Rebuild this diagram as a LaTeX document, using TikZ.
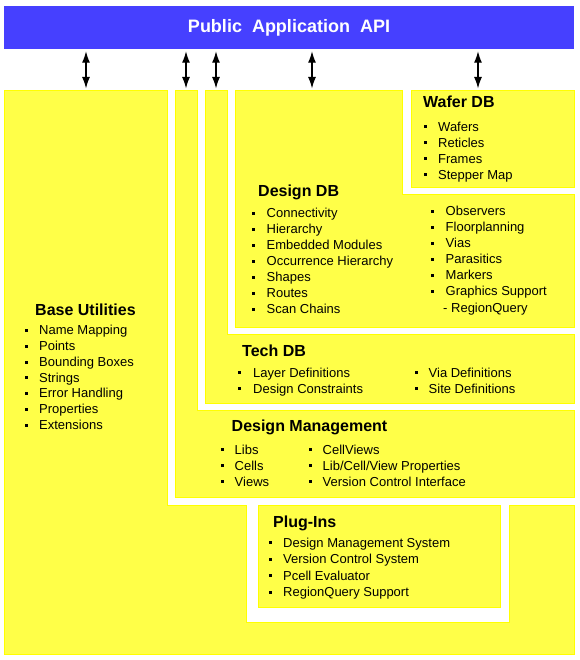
\documentclass[tikz,border=0pt]{standalone}
\usepackage{fontspec}
\setmainfont{Liberation Sans}
\usetikzlibrary{arrows.meta}
\definecolor{apiblue}{RGB}{70,64,255}
\definecolor{modfill}{RGB}{255,255,72}
\definecolor{modedge}{RGB}{255,255,0}
\tikzset{
  module/.style={fill=modfill, draw=modedge, line width=1pt},
  itm/.style={inner sep=0pt, font=\fontsize{13}{15}\selectfont, anchor=base west},
  hdg/.style={inner sep=0pt, font=\fontsize{16}{18}\selectfont\bfseries, anchor=base west},
  link/.style={line width=1.3pt, {Latex[length=11.5pt,width=8pt]}-{Latex[length=11.5pt,width=8pt]}, shorten <=2pt, shorten >=2.5pt},
  bulletsq/.style={fill=black}
}
\newcommand\bitem[5]{%
  \fill[bulletsq] (#2-1.5,#4-6) rectangle (#2+1.5,#4-3);
  \node[itm] (#1) at (#3,#4) {#5};}
\begin{document}
\begin{tikzpicture}[x=1pt,y=-1pt]
\useasboundingbox (0,0) rectangle (579,660);
\fill[white] (0,0) rectangle (579,660);
% API bar
\node[fill=apiblue, minimum width=570pt, minimum height=43pt, inner sep=0pt] (api) at (289,27.5) {};
\node[inner sep=0pt, anchor=base, text=white, font=\fontsize{18}{20}\selectfont\bfseries] (apititle) at (289,33) {Public\ \ Application\ \ API};
% modules
\draw[module] (4,91) -- (167,91) -- (167,505) -- (246,505) -- (246,622) -- (509,622) -- (509,505) -- (574,505) -- (574,654) -- (4,654) -- cycle;
\draw[module] (258,505) rectangle (500,607);
\draw[module] (175,91) -- (197,91) -- (197,410) -- (574,410) -- (574,497) -- (175,497) -- cycle;
\draw[module] (205,91) -- (227,91) -- (227,334) -- (574,334) -- (574,403) -- (205,403) -- cycle;
\draw[module] (235,91) -- (402,91) -- (402,195) -- (574,195) -- (574,327) -- (235,327) -- cycle;
\draw[module] (411,91) rectangle (574,188);
% connector ends
\coordinate (tBase) at (86,91);
\coordinate (tDM) at (186,91);
\coordinate (tTech) at (216,91);
\coordinate (tDes) at (312,91);
\coordinate (tWafer) at (478,91);
\foreach \t in {tBase,tDM,tTech,tDes,tWafer}
  \draw[link] (api.south -| \t) -- (\t);
% Wafer DB
\node[hdg] (wafer) at (423,108) {Wafer DB};
\bitem{w1}{425}{438}{131.5}{Wafers}
\bitem{w2}{425}{438}{147.5}{Reticles}
\bitem{w3}{425}{438}{163.5}{Frames}
\bitem{w4}{425}{438}{179.5}{Stepper Map}
% Design DB
\node[hdg] (design) at (258,196.5) {Design DB};
\bitem{d1}{253}{266.5}{217.5}{Connectivity}
\bitem{d2}{253}{266.5}{233.5}{Hierarchy}
\bitem{d3}{253}{266.5}{249.5}{Embedded Modules}
\bitem{d4}{253}{266.5}{265.5}{Occurrence Hierarchy}
\bitem{d5}{253}{266.5}{281.5}{Shapes}
\bitem{d6}{253}{266.5}{297.5}{Routes}
\bitem{d7}{253}{266.5}{313.5}{Scan Chains}
\bitem{e1}{432}{445.5}{215.5}{Observers}
\bitem{e2}{432}{445.5}{231.5}{Floorplanning}
\bitem{e3}{432}{445.5}{247.5}{Vias}
\bitem{e4}{432}{445.5}{263.5}{Parasitics}
\bitem{e5}{432}{445.5}{279.5}{Markers}
\bitem{e6}{432}{445.5}{295.5}{Graphics Support}
\node[itm] (e7) at (443,312) {- RegionQuery};
% Tech DB
\node[hdg] (tech) at (242,356.5) {Tech DB};
\bitem{t1}{239.5}{253}{377}{Layer Definitions}
\bitem{t2}{239.5}{253}{393}{Design Constraints}
\bitem{t3}{416.5}{428.5}{377}{Via Definitions}
\bitem{t4}{416.5}{428.5}{393}{Site Definitions}
% Design Management
\node[hdg] (dm) at (231.5,431.5) {Design Management};
\bitem{m1}{222}{234.5}{454}{Libs}
\bitem{m2}{222}{234.5}{470}{Cells}
\bitem{m3}{222}{234.5}{486}{Views}
\bitem{m4}{310}{322.5}{454}{CellViews}
\bitem{m5}{310}{322.5}{470}{Lib/Cell/View Properties}
\bitem{m6}{310}{322.5}{486}{Version Control Interface}
% Plug-Ins
\node[hdg] (plug) at (273,527) {Plug-Ins};
\bitem{p1}{270.5}{283}{547}{Design Management System}
\bitem{p2}{270.5}{283}{563.5}{Version Control System}
\bitem{p3}{270.5}{283}{580}{Pcell Evaluator}
\bitem{p4}{270.5}{283}{596.5}{RegionQuery Support}
% Base Utilities
\node[hdg] (base) at (35,315) {Base Utilities};
\bitem{b1}{26.5}{39}{334.5}{Name Mapping}
\bitem{b2}{26.5}{39}{350.5}{Points}
\bitem{b3}{26.5}{39}{366.5}{Bounding Boxes}
\bitem{b4}{26.5}{39}{382}{Strings}
\bitem{b5}{26.5}{39}{397.5}{Error Handling}
\bitem{b6}{26.5}{39}{413.5}{Properties}
\bitem{b7}{26.5}{39}{429.5}{Extensions}
\end{tikzpicture}
\end{document}
